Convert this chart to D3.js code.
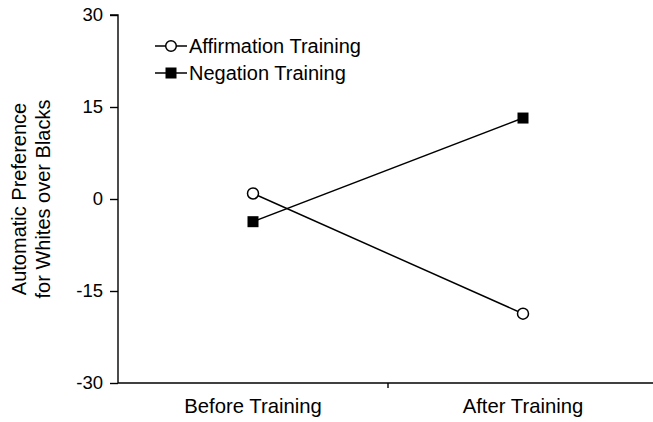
<!DOCTYPE html>
<html>
<head>
<meta charset="utf-8">
<script src="https://cdn.jsdelivr.net/npm/d3@7"></script>
<style>
html,body{margin:0;padding:0;background:#fff;}
svg{display:block;font-family:"Liberation Sans",Arial,Helvetica,sans-serif;}
</style>
</head>
<body>
<svg id="chart" width="653" height="422"></svg>
<script>
const categories = ["Before Training", "After Training"];
const seriesNames = ["Affirmation Training", "Negation Training"];
const affirmation = [0.9, -18.7];
const negation = [-3.7, 13.2];
const yTicks = [-30, -15, 0, 15, 30];
const yLabelLines = ["Automatic Preference", "for Whites over Blacks"];

const svg = d3.select("#chart");
const x = d3.scaleBand().domain(categories).range([118, 658]);
const y = d3.scaleLinear().domain([-30, 30]).range([383, 15]);
const cx = d => x(d) + x.bandwidth() / 2;

// Y axis
const yAxis = d3.axisLeft(y).tickValues(yTicks).tickSize(8).tickPadding(7).tickFormat(d => String(d));
const yg = svg.append("g").attr("transform", "translate(118,0)").call(yAxis);
yg.select(".domain").attr("stroke", "#000").attr("stroke-width", 1.4).attr("d", `M-8,${y(30)}H0V${y(-30)}`);
yg.selectAll(".tick line").attr("stroke", "#000").attr("stroke-width", 1.4);
yg.selectAll(".tick text").attr("font-size", 18.5).attr("fill", "#000").attr("font-family", "Liberation Sans, Arial, sans-serif");

// X axis
const xg = svg.append("g");
xg.append("line").attr("x1", 118).attr("x2", 653).attr("y1", y(-30)).attr("y2", y(-30))
  .attr("stroke", "#000").attr("stroke-width", 1.4);
categories.slice(1).forEach(c => {
  xg.append("line").attr("x1", x(c)).attr("x2", x(c)).attr("y1", y(-30)).attr("y2", y(-30) + 5)
    .attr("stroke", "#000").attr("stroke-width", 1.4);
});
categories.forEach(c => {
  xg.append("text").attr("x", cx(c)).attr("y", 413).attr("text-anchor", "middle")
    .attr("font-size", 20.3).attr("fill", "#000").text(c);
});

// Y label
const ylab = svg.append("g").attr("transform", `translate(0,${y(0)}) rotate(-90)`);
yLabelLines.forEach((t, i) => {
  ylab.append("text").attr("x", 0).attr("y", [26, 50][i]).attr("text-anchor", "middle")
    .attr("font-size", 20).attr("fill", "#000").text(t);
});

// Lines
const line = d3.line().x((d, i) => cx(categories[i])).y(d => y(d));
svg.append("path").datum(affirmation).attr("d", line).attr("fill", "none").attr("stroke", "#000").attr("stroke-width", 1.5);
svg.append("path").datum(negation).attr("d", line).attr("fill", "none").attr("stroke", "#000").attr("stroke-width", 1.5);

// Markers
svg.selectAll(".sq").data(negation).enter().append("rect")
  .attr("x", (d, i) => cx(categories[i]) - 5.5).attr("y", d => y(d) - 5.5)
  .attr("width", 11).attr("height", 11).attr("fill", "#000");
svg.selectAll(".ci").data(affirmation).enter().append("circle")
  .attr("cx", (d, i) => cx(categories[i])).attr("cy", d => y(d)).attr("r", 5.5)
  .attr("fill", "#fff").attr("stroke", "#000").attr("stroke-width", 1.5);

// Legend
const legend = svg.append("g");
const legY = [46, 73];
seriesNames.forEach((s, i) => {
  const g = legend.append("g").attr("transform", `translate(0,${legY[i]})`);
  g.append("line").attr("x1", 155).attr("x2", 187).attr("y1", 0).attr("y2", 0).attr("stroke", "#000").attr("stroke-width", 1.5);
  if (i === 0) {
    g.append("circle").attr("cx", 171).attr("cy", 0).attr("r", 5.3).attr("fill", "#fff").attr("stroke", "#000").attr("stroke-width", 1.5);
  } else {
    g.append("rect").attr("x", 165.5).attr("y", -5.5).attr("width", 11).attr("height", 11).attr("fill", "#000");
  }
  g.append("text").attr("x", 189).attr("y", 0).attr("dy", "0.35em").attr("font-size", 20).attr("fill", "#000").text(s);
});
</script>
</body>
</html>
